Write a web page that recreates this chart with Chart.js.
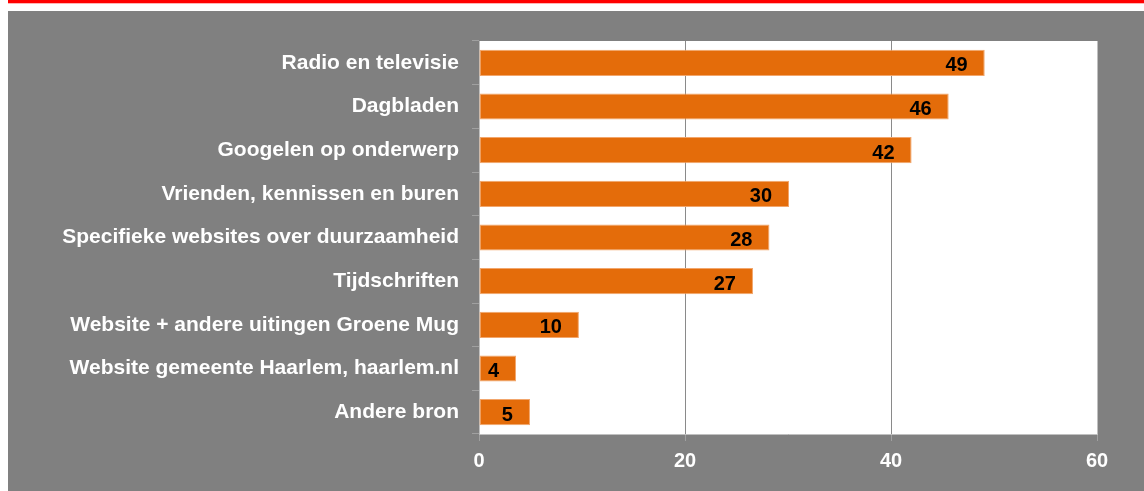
<!DOCTYPE html>
<html>
<head>
<meta charset="utf-8">
<script src="https://cdn.jsdelivr.net/npm/chart.js@4"></script>
<style>
    body { margin: 0; background: #ffffff; width: 1144px; height: 491px; overflow: hidden; position: relative; }
    #lijnRood { position: absolute; left: 8px; top: 0; width: 1136px; height: 3px; background: #ff0000; border-bottom: 1px solid #ffb4b4; }
    #vlak { position: absolute; left: 8px; top: 11px; width: 1136px; height: 480px; background: #808080; }
</style>
</head>
<body>
<div id="lijnRood"></div>
<div id="vlak"><canvas id="grafiek" width="1136" height="480"></canvas></div>
<script>
// Bronnen van informatie (percentages)
const bronnen = [
    "Radio en televisie",
    "Dagbladen",
    "Googelen op onderwerp",
    "Vrienden, kennissen en buren",
    "Specifieke websites over duurzaamheid",
    "Tijdschriften",
    "Website + andere uitingen Groene Mug",
    "Website gemeente Haarlem, haarlem.nl",
    "Andere bron"
];
const percentages = [49.1, 45.6, 42.0, 30.1, 28.2, 26.6, 9.7, 3.6, 4.95];
const labelsWaarden = ["49", "46", "42", "30", "28", "27", "10", "4", "5"];
const asTicks = [0, 20, 40, 60];

const lettertype = "'Liberation Sans', Arial, sans-serif";

// eigen plugin voor de waardes in de balken
const waardeLabels = {
    id: 'waardeLabels',
    afterDatasetsDraw(chart) {
        const ctx = chart.ctx;
        const meta = chart.getDatasetMeta(0);
        ctx.save();
        ctx.font = "bold 20px " + lettertype;
        ctx.fillStyle = '#000000';
        ctx.textAlign = 'right';
        ctx.textBaseline = 'alphabetic';
        meta.data.forEach((balk, i) => {
            ctx.fillText(labelsWaarden[i], balk.x - 17, balk.y + 8.5);
        });
        ctx.restore();
    }
};

const plotWit = {
    id: 'plotWit',
    beforeDraw(chart) {
        const a = chart.chartArea;
        chart.ctx.save();
        chart.ctx.fillStyle = '#ffffff';
        chart.ctx.fillRect(a.left, a.top, a.right - a.left, a.bottom - a.top);
        chart.ctx.restore();
    }
};

new Chart(document.getElementById('grafiek').getContext('2d'), {
    type: 'bar',
    data: {
        labels: bronnen,
        datasets: [{
            data: percentages,
            backgroundColor: '#e46c0a',
            borderColor: '#f2a66c',
            borderWidth: 1,
            borderSkipped: false,
            barPercentage: 0.6,
            categoryPercentage: 1
        }]
    },
    options: {
        indexAxis: 'y',
        responsive: false,
        animation: false,
        layout: { padding: { top: 30, right: 47, left: 0, bottom: 0 } },
        plugins: {
            legend: { display: false },
            tooltip: { enabled: false }
        },
        scales: {
            x: {
                min: 0,
                max: 60,
                afterBuildTicks: (s) => { s.ticks = asTicks.map(v => ({ value: v })); },
                afterFit: (s) => { s.height = 57; },
                grid: {
                    color: (c) => (c.tick && (c.tick.value === 20 || c.tick.value === 40)) ? '#8a8a8a' : '#c0c0c0',
                    tickColor: '#a0a0a0',
                    tickLength: 7
                },
                border: { color: '#c0c0c0' },
                ticks: {
                    color: '#ffffff',
                    padding: 8,
                    font: { family: lettertype, size: 20, weight: 'bold' }
                }
            },
            y: {
                afterFit: (s) => { s.width = 471; },
                grid: {
                    drawOnChartArea: false,
                    tickColor: '#a0a0a0',
                    tickLength: 7
                },
                border: { color: '#c0c0c0' },
                ticks: {
                    color: '#ffffff',
                    padding: 13,
                    font: { family: lettertype, size: 21, weight: 'bold' }
                }
            }
        }
    },
    plugins: [plotWit, waardeLabels]
});
</script>
</body>
</html>
